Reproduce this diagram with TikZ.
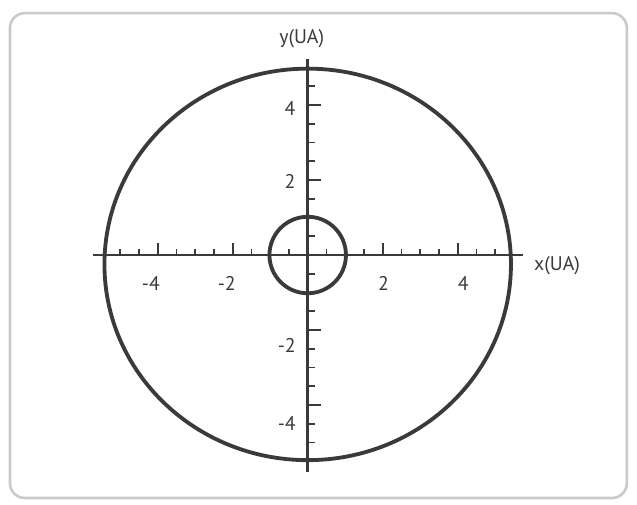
\documentclass[tikz,border=0pt]{standalone}
\usepackage{fontspec}
\setmainfont{PT Sans}
\usetikzlibrary{positioning}
\definecolor{inkgray}{HTML}{3A3A3A}
\definecolor{framegray}{HTML}{CACACA}
\tikzset{
  axisline/.style={draw=inkgray, line width=2.2pt},
  orbitline/.style={draw=inkgray, line width=2.9pt},
  minortick/.style={draw=inkgray, line width=1.3pt},
  majortick/.style={draw=inkgray, line width=1.5pt},
  ticklabel/.style={text=inkgray, inner sep=0pt, font=\fontsize{15}{18}\selectfont},
  axislabel/.style={ticklabel}
}
\begin{document}
\begin{tikzpicture}
  \useasboundingbox (-8.205,-6.64) rectangle (8.781,6.8);
  \draw[framegray, line width=2pt, rounded corners=0.4cm] (-7.94,-6.48) rectangle (8.51,6.45);
  % ticks on the axes
  \foreach \k in {-10,-9,-7,-6,-5,-3,-1,1,3,5,6,7,9,10}
    \draw[minortick] (\k/2,0) -- ++(0,0.17);
  \foreach \k in {-4,-2,2,4}
    \draw[majortick] (\k,0) -- ++(0,0.33);
  \foreach \k in {-10,-9,-7,-6,-5,-3,-1,1,3,5,6,7,9}
    \draw[minortick] (0,\k/2) -- ++(0.19,0);
  \foreach \k in {-4,-2,2,4}
    \draw[majortick] (0,\k) -- ++(0.36,0);
  % axes
  \draw[axisline] (-5.72,0) -- (5.75,0);
  \draw[axisline] (0,-5.78) -- (0,5.23);
  % orbits
  \draw[orbitline] (0,-0.25) ellipse [x radius=5.42, y radius=5.22];
  \draw[orbitline] (0,0) circle [radius=1.02];
  % labels
  \node[axislabel] (xlab) at (6.65,-0.27) {x(UA)};
  \node[axislabel] (ylab) at (-0.16,5.77) {y(UA)};
  \node[ticklabel] (xm4) at (-4.18,-0.75) {-4};
  \node[ticklabel] (xm2) at (-2.16,-0.75) {-2};
  \node[ticklabel] (xp2) at (2.02,-0.75) {2};
  \node[ticklabel] (xp4) at (4.15,-0.75) {4};
  \node[ticklabel] (yp4) at (-0.47,3.92) {4};
  \node[ticklabel] (yp2) at (-0.47,1.97) {2};
  \node[ticklabel] (ym2) at (-0.56,-2.4) {-2};
  \node[ticklabel] (ym4) at (-0.56,-4.48) {-4};
\end{tikzpicture}
\end{document}
